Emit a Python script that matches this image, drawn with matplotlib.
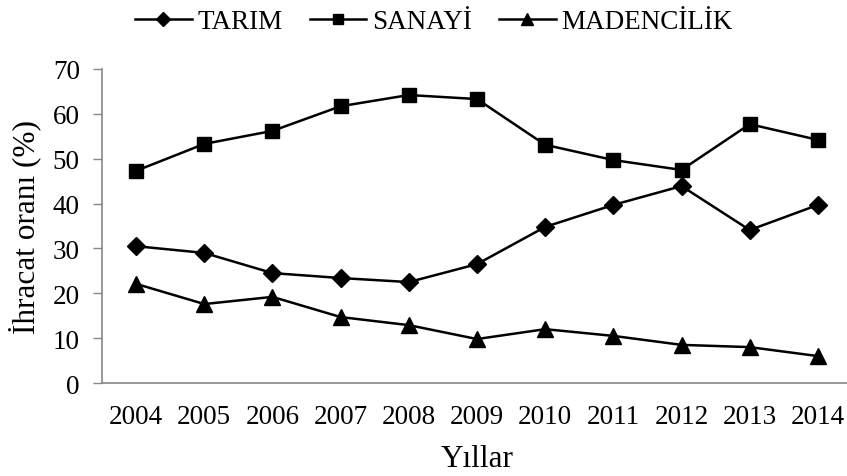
import matplotlib
matplotlib.use("Agg")
import matplotlib.pyplot as plt

years = ["2004", "2005", "2006", "2007", "2008", "2009", "2010", "2011", "2012", "2013", "2014"]
tarim = [30.5, 29.0, 24.5, 23.4, 22.5, 26.5, 34.8, 39.7, 43.9, 34.1, 39.7]
sanayi = [47.3, 53.3, 56.2, 61.7, 64.2, 63.3, 53.1, 49.7, 47.5, 57.7, 54.2]
madencilik = [22.1, 17.6, 19.2, 14.7, 12.9, 9.8, 12.0, 10.5, 8.5, 8.0, 6.0]
yticks = [0, 10, 20, 30, 40, 50, 60, 70]

plt.rcParams['font.family'] = ['Liberation Serif', 'DejaVu Serif']

W, H = 847, 477
fig = plt.figure(figsize=(W/100, H/100), dpi=100)
ax = fig.add_axes([102/W, 1-384/H, (852-102)/W, (384-70)/H])

x = list(range(len(years)))
ax.plot(x, tarim, '-', color='black', lw=1.8, marker='D', ms=9, label='TARIM')
ax.plot(x, sanayi, '-', color='black', lw=1.8, marker='s', ms=10, label='SANAYİ')
ax.plot(x, madencilik, '-', color='black', lw=1.8, marker='^', ms=11, label='MADENCİLİK')

ax.set_xlim(-0.5, len(years) - 0.5)
ax.set_ylim(0, 70)
ax.set_yticks(yticks)
ax.set_xticks(x)
ax.set_xticklabels(years)
ax.tick_params(axis='x', length=0, pad=15, labelsize=19.5)
ax.tick_params(axis='y', length=6.5, width=1, color='#888888', pad=9.5, labelsize=19.5)
for s in ['top', 'right']:
    ax.spines[s].set_visible(False)
for s in ['left', 'bottom']:
    ax.spines[s].set_color('#888888')
    ax.spines[s].set_linewidth(1.2)

ax.set_xlabel('Yıllar', fontsize=22.5, labelpad=11)
ax.set_ylabel('İhracat oranı (%)', fontsize=22.5, labelpad=8)

fig.legend(loc='upper center', bbox_to_anchor=(0.512, 1.03), ncol=3, frameon=False,
           fontsize=19.5, handlelength=2.1, handletextpad=0.2, columnspacing=1.0,
           markerscale=0.75)

fig.savefig('out.png', dpi=100)
